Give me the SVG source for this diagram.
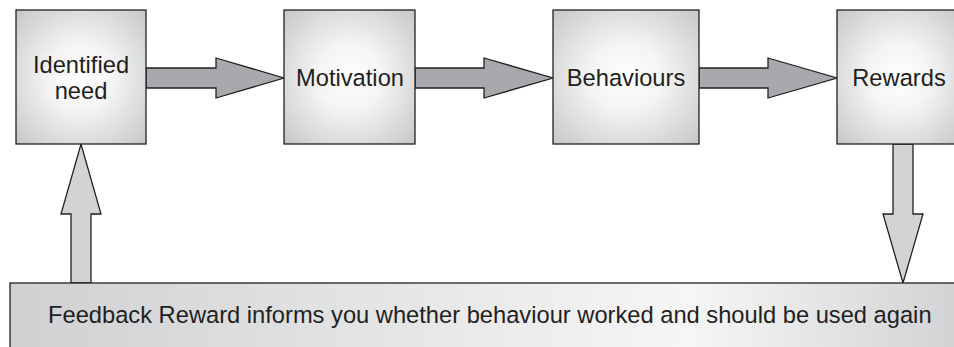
<svg xmlns="http://www.w3.org/2000/svg" width="954" height="347" viewBox="0 0 954 347">
<defs>
<radialGradient id="boxGrad" cx="0.5" cy="0.5" r="0.72">
<stop offset="0" stop-color="#ffffff"/>
<stop offset="0.35" stop-color="#f4f4f4"/>
<stop offset="1" stop-color="#c4c5c7"/>
</radialGradient>
<linearGradient id="barGrad" gradientUnits="userSpaceOnUse" x1="10" y1="0" x2="954" y2="0">
<stop offset="0" stop-color="#cfd0d2"/>
<stop offset="0.72" stop-color="#f6f6f6"/>
<stop offset="1" stop-color="#d2d3d5"/>
</linearGradient>
</defs>
<style>
.box{fill:url(#boxGrad);stroke:#231f20;stroke-width:1.3}
.bar{fill:url(#barGrad);stroke:#231f20;stroke-width:1.3}
.harrow{fill:#a7a9ac;stroke:#231f20;stroke-width:1.3;stroke-linejoin:miter}
.varrow{fill:#d1d3d4;stroke:#231f20;stroke-width:1.3;stroke-linejoin:miter}
text{font-family:"Liberation Sans",Arial,sans-serif;font-size:23.7px;fill:#231f20}
</style>
<rect width="954" height="347" fill="#ffffff"/>
<g id="connectors">
<polygon class="harrow" points="146,68 216,68 216,58 284,78 216,98 216,88 146,88"/>
<polygon class="harrow" points="415,68 484,68 484,58 553,78 484,98 484,88 415,88"/>
<polygon class="harrow" points="699,68 768,68 768,58 837,78 768,98 768,88 699,88"/>
<polygon class="varrow" points="893,144 913,144 913,214 923,214 903,283 883,214 893,214"/>
<polygon class="varrow" points="71,283 91,283 91,214 101,214 81,144 61,214 71,214"/>
</g>
<g id="node-identified-need">
<rect class="box" x="16" y="10" width="130" height="134"/>
<text x="81" y="73" text-anchor="middle">Identified</text>
<text x="81" y="99" text-anchor="middle">need</text>
</g>
<g id="node-motivation">
<rect class="box" x="284" y="10" width="131" height="134"/>
<text x="350" y="86" text-anchor="middle">Motivation</text>
</g>
<g id="node-behaviours">
<rect class="box" x="553" y="10" width="146" height="134"/>
<text x="626" y="86" text-anchor="middle">Behaviours</text>
</g>
<g id="node-rewards">
<rect class="box" x="837" y="10" width="125" height="134"/>
<text x="899" y="86" text-anchor="middle">Rewards</text>
</g>
<g id="node-feedback">
<rect class="bar" x="10" y="283" width="960" height="80"/>
<text x="48" y="323">Feedback Reward informs you whether behaviour worked and should be used again</text>
</g>
</svg>
